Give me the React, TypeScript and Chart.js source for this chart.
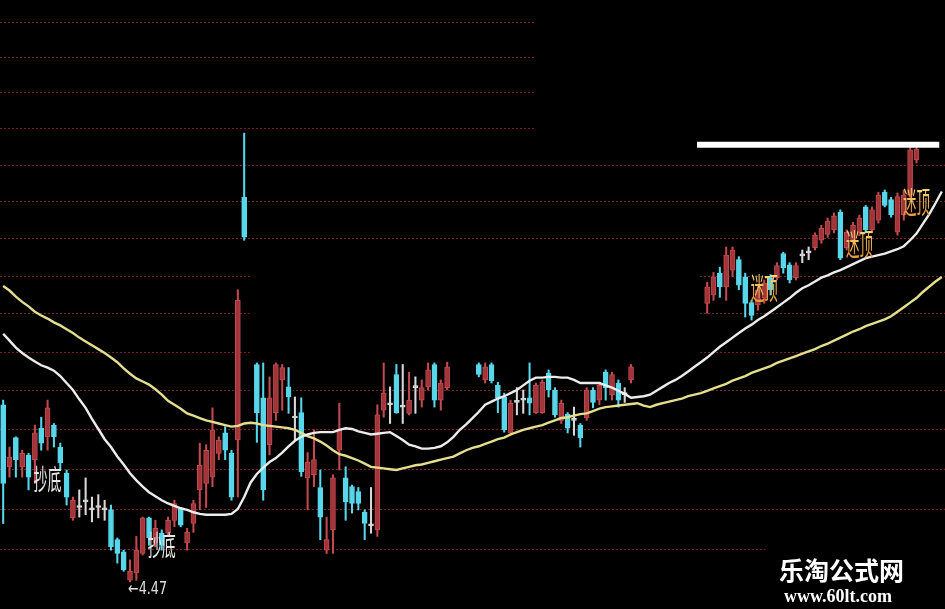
import React, { useEffect, useRef } from "react";
import { Chart, registerables } from "chart.js";

Chart.register(...registerables);

// Daily OHLC, one entry per trading slot (null = no bar shown in that slot)
const open: (number | null)[] = [
  4.692, 4.613, 4.650, 4.613, 4.628, 4.622, 4.662, 4.651, 4.666, 4.638,
  4.605, 4.549, 4.562, 4.569, 4.559, 4.562, 4.559, 4.559, 4.522, 4.507,
  4.472, 4.481, 4.505, 4.549, 4.518, 4.530, 4.530, 4.546, 4.561, 4.518,
  4.542, 4.584, 4.592, 4.600, 4.630, 4.656, 4.630, 4.647, 4.966, null,
  4.744, 4.701, 4.641, 4.682, 4.724, 4.715, 4.675, 4.682, 4.599, 4.603,
  4.587, 4.509, 4.534, 4.634, 4.599, 4.588, 4.582, 4.556, 4.539, 4.534,
  4.685, 4.692, 4.731, 4.689, 4.681, 4.714, 4.698, 4.715, 4.744, 4.698,
  4.714, null, null, null, null, 4.744, 4.724, 4.744, 4.717, 4.702,
  4.656, 4.695, 4.698, 4.701, 4.682, 4.682, 4.733, 4.711, 4.672, 4.680,
  4.672, 4.666, 4.675, 4.711, 4.698, 4.734, 4.705, 4.720, 4.705, 4.724,
  null, null, null, null, null, null, null, null, null, null,
  null, 4.824, 4.835, 4.864, 4.846, 4.868, 4.882, 4.859, 4.825, 4.822,
  4.831, 4.858, 4.858, 4.890, 4.875, 4.858, 4.887, 4.891, 4.898, 4.908,
  4.916, 4.922, 4.946, 4.898, 4.908, 4.919, 4.953, 4.922, 4.935, 4.973,
  4.963, 4.919, 4.942, 4.969, 5.017,
];
const high: (number | null)[] = [
  4.698, 4.638, 4.651, 4.634, 4.630, 4.666, 4.676, 4.698, 4.668, 4.643,
  4.609, 4.575, 4.584, 4.599, 4.575, 4.578, 4.571, 4.565, 4.524, 4.509,
  4.497, 4.526, 4.550, 4.550, 4.546, 4.534, 4.550, 4.571, 4.562, 4.536,
  4.571, 4.643, 4.641, 4.688, 4.651, 4.664, 4.634, 4.842, 5.054, null,
  4.746, 4.746, 4.728, 4.746, 4.744, 4.740, 4.702, 4.701, 4.631, 4.660,
  4.609, 4.550, 4.603, 4.694, 4.613, 4.590, 4.587, 4.559, 4.587, 4.692,
  4.746, 4.715, 4.744, 4.744, 4.734, 4.728, 4.724, 4.746, 4.746, 4.724,
  4.747, null, null, null, null, 4.746, 4.746, 4.746, 4.721, 4.707,
  4.698, 4.714, 4.711, 4.746, 4.720, 4.724, 4.737, 4.714, 4.698, 4.682,
  4.689, 4.668, 4.714, 4.714, 4.721, 4.737, 4.734, 4.724, 4.714, 4.744,
  null, null, null, null, null, null, null, null, null, null,
  null, 4.852, 4.865, 4.872, 4.899, 4.899, 4.886, 4.864, 4.828, 4.846,
  4.855, 4.862, 4.878, 4.892, 4.878, 4.878, 4.895, 4.899, 4.918, 4.928,
  4.938, 4.945, 4.949, 4.922, 4.932, 4.942, 4.955, 4.953, 4.973, 4.976,
  4.966, 4.972, 4.976, 5.035, 5.035,
];
const low: (number | null)[] = [
  4.542, 4.600, 4.600, 4.600, 4.584, 4.592, 4.634, 4.634, 4.638, 4.609,
  4.565, 4.546, 4.550, 4.553, 4.544, 4.549, 4.546, 4.509, 4.493, 4.483,
  4.470, 4.472, 4.503, 4.515, 4.513, 4.509, 4.526, 4.538, 4.538, 4.509,
  4.531, 4.559, 4.562, 4.588, 4.622, 4.622, 4.571, 4.575, 4.908, null,
  4.644, 4.571, 4.628, 4.672, 4.685, 4.681, 4.647, 4.601, 4.559, 4.588,
  4.522, 4.505, 4.505, 4.609, 4.546, 4.555, 4.559, 4.522, 4.530, 4.526,
  4.676, 4.668, 4.681, 4.668, 4.679, 4.681, 4.689, 4.711, 4.689, 4.685,
  4.711, null, null, null, null, 4.728, 4.720, 4.720, 4.682, 4.657,
  4.653, 4.679, 4.681, 4.679, 4.681, 4.681, 4.702, 4.676, 4.668, 4.656,
  4.653, 4.638, 4.672, 4.688, 4.692, 4.698, 4.698, 4.689, 4.695, 4.720,
  null, null, null, null, null, null, null, null, null, null,
  null, 4.811, 4.828, 4.832, 4.828, 4.859, 4.842, 4.806, 4.802, 4.815,
  4.824, 4.835, 4.855, 4.864, 4.851, 4.855, 4.878, 4.882, 4.895, 4.904,
  4.912, 4.918, 4.882, 4.895, 4.904, 4.914, 4.918, 4.918, 4.931, 4.953,
  4.939, 4.915, 4.935, 4.966, 5.013,
];
const close: (number | null)[] = [
  4.592, 4.625, 4.622, 4.630, 4.600, 4.656, 4.643, 4.688, 4.651, 4.618,
  4.575, 4.571, 4.562, 4.569, 4.559, 4.562, 4.559, 4.513, 4.505, 4.485,
  4.483, 4.509, 4.549, 4.524, 4.536, 4.515, 4.546, 4.567, 4.540, 4.531,
  4.567, 4.615, 4.634, 4.660, 4.647, 4.634, 4.575, 4.828, 4.912, null,
  4.682, 4.584, 4.701, 4.744, 4.740, 4.702, 4.675, 4.607, 4.619, 4.622,
  4.550, 4.522, 4.599, 4.660, 4.569, 4.567, 4.567, 4.542, 4.539, 4.679,
  4.707, 4.692, 4.682, 4.689, 4.698, 4.714, 4.714, 4.737, 4.698, 4.720,
  4.741, null, null, null, null, 4.731, 4.741, 4.723, 4.701, 4.660,
  4.694, 4.695, 4.698, 4.694, 4.717, 4.721, 4.711, 4.679, 4.694, 4.662,
  4.672, 4.650, 4.711, 4.695, 4.717, 4.714, 4.731, 4.698, 4.705, 4.741,
  null, null, null, null, null, null, null, null, null, null,
  null, 4.846, 4.859, 4.846, 4.888, 4.895, 4.848, 4.824, 4.808, 4.842,
  4.851, 4.842, 4.874, 4.871, 4.855, 4.874, 4.887, 4.891, 4.915, 4.924,
  4.934, 4.941, 4.884, 4.919, 4.928, 4.938, 4.922, 4.949, 4.969, 4.955,
  4.942, 4.967, 4.969, 5.031, 5.032,
];

// Short moving average (white)
const maShort: number[] = [
  4.784, 4.775, 4.766, 4.759, 4.753, 4.748, 4.743, 4.740, 4.736, 4.729,
  4.720, 4.711, 4.699, 4.688, 4.674, 4.661, 4.648, 4.638, 4.626, 4.616,
  4.605, 4.596, 4.588, 4.581, 4.576, 4.571, 4.567, 4.564, 4.561, 4.559,
  4.556, 4.554, 4.553, 4.553, 4.553, 4.553, 4.554, 4.560, 4.575, 4.593,
  4.604, 4.612, 4.619, 4.624, 4.631, 4.639, 4.646, 4.651, 4.654, 4.656,
  4.657, 4.657, 4.657, 4.660, 4.662, 4.661, 4.658, 4.656, 4.654, 4.655,
  4.656, 4.657, 4.652, 4.647, 4.641, 4.639, 4.636, 4.636, 4.637, 4.639,
  4.644, 4.651, 4.660, 4.667, 4.675, 4.683, 4.692, 4.696, 4.700, 4.703,
  4.707, 4.711, 4.717, 4.723, 4.727, 4.727, 4.728, 4.728, 4.727, 4.727,
  4.724, 4.720, 4.720, 4.720, 4.720, 4.717, 4.714, 4.710, 4.706, 4.701,
  4.702, 4.703, 4.705, 4.710, 4.715, 4.720, 4.724, 4.729, 4.735, 4.741,
  4.747, 4.753, 4.760, 4.767, 4.773, 4.779, 4.785, 4.791, 4.796, 4.802,
  4.807, 4.813, 4.819, 4.825, 4.831, 4.838, 4.844, 4.848, 4.853, 4.858,
  4.861, 4.865, 4.868, 4.872, 4.876, 4.880, 4.884, 4.886, 4.888, 4.890,
  4.893, 4.896, 4.900, 4.908, 4.917, 4.930, 4.943, 4.958, 4.974,
];

// Long moving average (yellow)
const maLong: number[] = [
  4.847, 4.841, 4.833, 4.826, 4.820, 4.813, 4.808, 4.804, 4.799, 4.795,
  4.790, 4.785, 4.779, 4.774, 4.769, 4.764, 4.759, 4.753, 4.747, 4.739,
  4.732, 4.726, 4.722, 4.718, 4.712, 4.705, 4.697, 4.692, 4.687, 4.681,
  4.678, 4.675, 4.672, 4.670, 4.668, 4.666, 4.664, 4.665, 4.668, 4.669,
  4.668, 4.666, 4.665, 4.664, 4.663, 4.662, 4.660, 4.656, 4.652, 4.649,
  4.645, 4.640, 4.634, 4.629, 4.627, 4.624, 4.621, 4.617, 4.613, 4.612,
  4.611, 4.610, 4.609, 4.611, 4.613, 4.615, 4.616, 4.618, 4.620, 4.622,
  4.624, 4.626, 4.630, 4.634, 4.637, 4.639, 4.642, 4.645, 4.648, 4.650,
  4.654, 4.657, 4.660, 4.662, 4.664, 4.666, 4.669, 4.672, 4.675, 4.676,
  4.678, 4.680, 4.681, 4.684, 4.687, 4.689, 4.690, 4.691, 4.692, 4.693,
  4.694, 4.691, 4.689, 4.692, 4.694, 4.696, 4.698, 4.700, 4.703, 4.705,
  4.707, 4.710, 4.713, 4.716, 4.719, 4.723, 4.726, 4.729, 4.733, 4.736,
  4.739, 4.742, 4.746, 4.749, 4.752, 4.755, 4.758, 4.761, 4.764, 4.768,
  4.771, 4.775, 4.779, 4.783, 4.787, 4.790, 4.794, 4.797, 4.800, 4.803,
  4.807, 4.813, 4.819, 4.825, 4.831, 4.839, 4.846, 4.853, 4.859,
];

// Price levels of the dotted horizontal grid
const gridLevels = [
  4.51, 4.56, 4.61, 4.66, 4.71, 4.76, 4.81, 4.86, 4.91, 4.96, 5.01, 5.06,
  5.11, 5.16, 5.21,
];

// Signal markers
const buySlots = [7, 25];
const buyPrices = [4.597, 4.515];
const sellSlots = [120, 135, 144];
const sellPrices = [4.845, 4.904, 4.96];
const lowSlot = 20;

// Horizontal resistance line across the recent highs
const resistancePrice = 5.038;
const resistanceFrom = 109.4;
const resistanceTo = 147.6;

const SLOT_MIN = -0.5;
const SLOT_MAX = 148.5;
const PRICE_MIN = 4.437;
const PRICE_MAX = 5.2415;

const UP_FILL = "#a2353a";
const UP_EDGE = "#c24a4e";
const DOWN = "#58d6ea";
const FLAT = "#d8d8d8";
const GRID = "#7a2222";

// Areas of the panel where the dotted grid is left blank: [slotFrom, slotTo, priceLow, priceHigh]
const blankAreas: [number, number, number, number][] = [
  [83.9, SLOT_MAX, 5.04, PRICE_MAX],
  [38.9, 109.9, 4.74, 4.905],
  [38.9, 45.7, 4.705, 4.74],
  [91.4, 109.9, 4.705, 4.74],
];

const blankGridPlugin = {
  id: "blankGrid",
  beforeDatasetsDraw(chart: any) {
    const { ctx, scales } = chart;
    const xs = scales.x;
    const ys = scales.y;
    ctx.save();
    ctx.fillStyle = "#000";
    for (const [a, b, lo, hi] of blankAreas) {
      const x0 = xs.getPixelForValue(a);
      const x1 = xs.getPixelForValue(b);
      const y0 = ys.getPixelForValue(hi);
      const y1 = ys.getPixelForValue(lo);
      ctx.fillRect(x0, y0, x1 - x0, y1 - y0);
    }
    ctx.restore();
  },
};

function squeezedText(
  ctx: CanvasRenderingContext2D,
  text: string,
  x: number,
  y: number,
  font: string,
  sx: number,
  fill: string | CanvasGradient | ((c: CanvasRenderingContext2D) => CanvasGradient),
  align: CanvasTextAlign = "center"
) {
  ctx.save();
  ctx.translate(x, y);
  ctx.scale(sx, 1);
  ctx.font = font;
  ctx.textAlign = align;
  ctx.textBaseline = "middle";
  ctx.fillStyle = typeof fill === "function" ? fill(ctx) : fill;
  ctx.fillText(text, 0, 0);
  ctx.restore();
}

const annotationPlugin = {
  id: "annotations",
  afterDatasetsDraw(chart: any) {
    const { ctx, scales, width, height } = chart;
    const xs = scales.x;
    const ys = scales.y;

    buySlots.forEach((s, k) => {
      squeezedText(
        ctx,
        "抄底",
        xs.getPixelForValue(s),
        ys.getPixelForValue(buyPrices[k]),
        '28px "Noto Sans CJK SC"',
        0.5,
        "#e6e6e6"
      );
    });

    sellSlots.forEach((s, k) => {
      squeezedText(
        ctx,
        "迷顶",
        xs.getPixelForValue(s),
        ys.getPixelForValue(sellPrices[k]),
        '30px "Noto Sans CJK SC"',
        0.45,
        (c) => {
          const g = c.createLinearGradient(0, -15, 0, 15);
          g.addColorStop(0, "#f8dc78");
          g.addColorStop(1, "#e8963a");
          return g;
        }
      );
    });

    const lowVal = low[lowSlot] as number;
    squeezedText(
      ctx,
      "←" + lowVal.toFixed(2),
      xs.getPixelForValue(lowSlot) - 2,
      ys.getPixelForValue(lowVal) + 8,
      '17px "DejaVu Sans"',
      0.75,
      "#e0e0e0",
      "left"
    );

    // site watermark in the lower right corner
    ctx.save();
    ctx.fillStyle = "#000";
    ctx.fillRect(width - 180, height - 69, 180, 69);
    ctx.fillStyle = "#ffffff";
    ctx.textAlign = "left";
    ctx.textBaseline = "middle";
    ctx.font = 'bold 25px "Noto Sans CJK SC"';
    ctx.fillText("乐淘公式网", width - 166, height - 39);
    ctx.font = 'bold 18px "Liberation Serif"';
    ctx.fillText("www.60lt.com", width - 161, height - 12);
    ctx.restore();
  },
};

export default function App() {
  const canvasRef = useRef<HTMLCanvasElement | null>(null);

  useEffect(() => {
    document.body.style.margin = "0";
    document.body.style.background = "#000";
    const canvas = canvasRef.current;
    if (!canvas) return;

    const slots = open
      .map((o, i) => (o == null ? -1 : i))
      .filter((i) => i >= 0);
    const o = (i: number) => open[i] as number;
    const c = (i: number) => close[i] as number;
    const tone = (i: number) => (c(i) > o(i) ? 1 : c(i) < o(i) ? -1 : 0);

    const wickData = slots.map((i) => ({ x: i, y: [low[i], high[i]] }));
    const bodyData = slots.map((i) => ({
      x: i,
      y: [Math.min(o(i), c(i)), Math.max(o(i), c(i))],
    }));
    const wickColors = slots.map((i) =>
      tone(i) > 0 ? UP_EDGE : tone(i) < 0 ? DOWN : FLAT
    );
    const bodyFill = slots.map((i) =>
      tone(i) > 0 ? UP_FILL : tone(i) < 0 ? DOWN : FLAT
    );
    const bodyEdge = slots.map((i) =>
      tone(i) > 0 ? UP_EDGE : tone(i) < 0 ? DOWN : FLAT
    );

    const chart = new Chart(canvas, {
      type: "bar",
      data: {
        datasets: [
          {
            type: "line",
            label: "MA short",
            data: maShort.map((v, i) => ({ x: i, y: v })),
            borderColor: "#ececec",
            borderWidth: 2.4,
            pointRadius: 0,
            tension: 0,
          },
          {
            type: "line",
            label: "MA long",
            data: maLong.map((v, i) => ({ x: i, y: v })),
            borderColor: "#e4df8e",
            borderWidth: 2.4,
            pointRadius: 0,
            tension: 0,
          },
          {
            type: "line",
            label: "resistance",
            data: [
              { x: resistanceFrom, y: resistancePrice },
              { x: resistanceTo, y: resistancePrice },
            ],
            borderColor: "#ffffff",
            borderWidth: 6,
            borderCapStyle: "butt",
            pointRadius: 0,
          },
          {
            type: "bar",
            label: "body",
            data: bodyData as any,
            backgroundColor: bodyFill,
            borderColor: bodyEdge,
            borderWidth: 1,
            borderSkipped: false,
            barThickness: 5,
            minBarLength: 2,
            grouped: false,
          } as any,
          {
            type: "bar",
            label: "wick",
            data: wickData as any,
            backgroundColor: wickColors,
            barThickness: 1.4,
            grouped: false,
          } as any,
        ],
      },
      options: {
        responsive: false,
        animation: false,
        events: [],
        layout: { padding: 0 },
        plugins: {
          legend: { display: false },
          tooltip: { enabled: false },
        },
        scales: {
          x: {
            type: "linear",
            display: false,
            min: SLOT_MIN,
            max: SLOT_MAX,
            offset: false,
          },
          y: {
            type: "logarithmic",
            position: "left",
            min: PRICE_MIN,
            max: PRICE_MAX,
            afterBuildTicks: (axis: any) => {
              axis.ticks = gridLevels.map((v) => ({ value: v }));
            },
            ticks: { display: false },
            grid: { color: GRID, lineWidth: 1, drawTicks: false },
            border: { display: false, dash: [2, 2] },
          },
        },
      } as any,
      plugins: [blankGridPlugin, annotationPlugin],
    });

    return () => chart.destroy();
  }, []);

  return (
    <div
      style={{
        position: "fixed",
        left: 0,
        top: 0,
        width: 945,
        height: 609,
        background: "#000",
      }}
    >
      <canvas ref={canvasRef} width={945} height={609} style={{ display: "block" }} />
    </div>
  );
}
